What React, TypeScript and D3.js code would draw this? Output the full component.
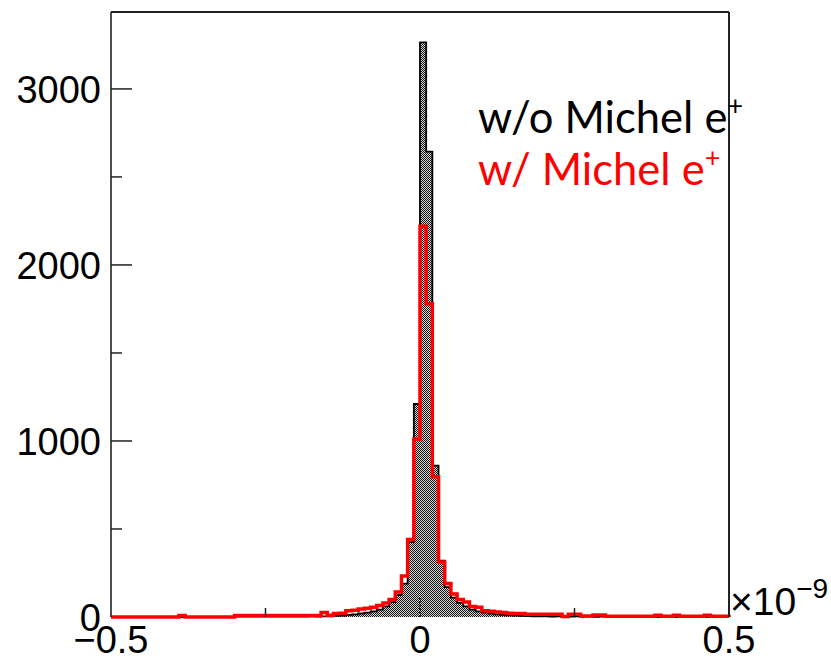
import React from "react";
import * as d3 from "d3";

// 100 bins from -0.5 to 0.5 (x 1e-9)
const binEdgesLo = -0.5;
const binWidth = 0.01;

const woMichel: number[] = [
  0, 0, 0, 0, 0, 0, 0, 0, 0, 0,
  0, 0, 0, 0, 0, 0, 0, 0, 0, 0,
  2, 2, 2, 2, 2, 2, 2, 2, 2, 2,
  2, 2, 3, 2, 3, 4, 6, 8, 12, 15,
  20, 25, 32, 42, 60, 85, 125, 190, 425, 1210,
  3265, 2644, 860, 320, 170, 110, 80, 60, 42, 32,
  25, 20, 15, 12, 10, 8, 6, 5, 3, 4,
  3, 2, 3, 2, 2, 3, 2, 2, 1, 2,
  1, 0, 1, 0, 0, 1, 0, 0, 0, 0,
  0, 0, 0, 0, 0, 0, 0, 0, 0, 0,
];

const wMichel: number[] = [
  0, 0, 0, 0, 0, 0, 0, 0, 0, 0,
  0, 8, 0, 0, 0, 0, 0, 0, 0, 0,
  8, 8, 8, 8, 8, 8, 8, 8, 8, 8,
  8, 8, 8, 8, 25, 10, 20, 22, 35, 38,
  45, 50, 55, 65, 80, 100, 142, 233, 440, 1010,
  2220, 1780, 797, 312, 191, 130, 100, 85, 60, 55,
  35, 33, 28, 25, 22, 20, 20, 15, 15, 15,
  15, 15, 15, 3, 15, 15, 5, 5, 12, 12,
  4, 4, 4, 4, 4, 4, 4, 4, 10, 4,
  4, 10, 4, 4, 4, 4, 10, 4, 4, 4,
];

const yMajorTicks = [0, 1000, 2000, 3000];
const yMinorTicks = [500, 1500, 2500];
const xMajorTicks = [-0.5, 0, 0.5];
const xMinorTicks = [-0.25, 0.25];
const xTickLabels = ["\u22120.5", "0", "0.5"];
const legendLabels = ["w/o Michel e", "w/ Michel e"];

const W = 831;
const H = 660;
const L = 111;
const R = 729;
const T = 12;
const B = 617;

function stepPoints(vals: number[]): [number, number][] {
  const pts: [number, number][] = [];
  pts.push([binEdgesLo, 0]);
  vals.forEach((v, i) => {
    const lo = binEdgesLo + i * binWidth;
    pts.push([lo, v]);
    pts.push([lo + binWidth, v]);
  });
  pts.push([binEdgesLo + vals.length * binWidth, 0]);
  return pts;
}

export default function App() {
  const x = d3.scaleLinear().domain([-0.5, 0.5]).range([L, R]);
  const y = d3.scaleLinear().domain([0, 3437]).range([B, T]);
  const line = d3
    .line<[number, number]>()
    .x((d) => x(d[0]))
    .y((d) => y(d[1]));

  const blackPath = line(stepPoints(woMichel)) || "";
  const redPath = line(stepPoints(wMichel)) || "";
  const font = "'Liberation Sans', Arial, Helvetica, sans-serif";
  const legendFont = "Lato, 'Open Sans', sans-serif";

  return (
    <svg
      width={W}
      height={H}
      style={{ position: "absolute", left: 0, top: 0, background: "#fff" }}
    >
      <defs>
        <pattern id="checker" width={2} height={2} patternUnits="userSpaceOnUse">
          <rect width={2} height={2} fill="#d8d8d8" />
          <rect x={0} y={0} width={1} height={1} fill="#111" />
          <rect x={1} y={1} width={1} height={1} fill="#111" />
        </pattern>
      </defs>

      {/* black histogram */}
      <path d={blackPath + "Z"} fill="url(#checker)" stroke="none" shapeRendering="crispEdges" />
      <path d={blackPath} fill="none" stroke="#000" strokeWidth={1.8} />

      {/* red histogram */}
      <path d={redPath} fill="none" stroke="#ff0000" strokeWidth={3.5} />

      {/* frame */}
      <line x1={L} y1={T} x2={R} y2={T} stroke="#222" strokeWidth={2} />
      <line x1={R} y1={T} x2={R} y2={B} stroke="#222" strokeWidth={2} />
      <line x1={L} y1={T} x2={L} y2={B} stroke="#222" strokeWidth={1.6} />

      {/* y ticks */}
      {yMajorTicks.map((t) => (
        <g key={"ym" + t}>
          {t > 0 && (
            <line x1={L} x2={L + 21} y1={y(t)} y2={y(t)} stroke="#222" strokeWidth={1.5} />
          )}
          <text
            x={L - 10}
            y={y(t)}
            dy="0.36em"
            textAnchor="end"
            fontFamily={font}
            fontSize={38}
            fill="#000"
          >
            {t}
          </text>
        </g>
      ))}
      {yMinorTicks.map((t) => (
        <line key={"yn" + t} x1={L} x2={L + 11} y1={y(t)} y2={y(t)} stroke="#222" strokeWidth={1.5} />
      ))}

      {/* x ticks */}
      {xMajorTicks.map((t, i) => (
        <g key={"xm" + t}>
          {t === 0 && (
            <line
              x1={x(t)}
              x2={x(t)}
              y1={B}
              y2={B - 19}
              stroke="#000"
              strokeWidth={1.5}
              strokeDasharray="2,1.5"
            />
          )}
          <text
            x={x(t)}
            y={B + 36}
            textAnchor="middle"
            fontFamily={font}
            fontSize={38}
            fill="#000"
          >
            {xTickLabels[i]}
          </text>
        </g>
      ))}
      {xMinorTicks.map((t) => (
        <line key={"xn" + t} x1={x(t)} x2={x(t)} y1={B} y2={B - 9} stroke="#222" strokeWidth={1.5} />
      ))}

      {/* exponent */}
      <text x={R + 1} y={B - 2} fontFamily={font} fontSize={39} fill="#000">
        {"\u00d710"}
        <tspan dy={-17} fontSize={28}>
          {"\u22129"}
        </tspan>
      </text>

      {/* legend text */}
      <text x={478} y={133} fontFamily={legendFont} fontSize={43.5} fill="#000">
        {legendLabels[0]}
        <tspan dy={-18} fontSize={27}>+</tspan>
      </text>
      <text x={478} y={185} fontFamily={legendFont} fontSize={43.5} fill="#ff0000">
        {legendLabels[1]}
        <tspan dy={-18} fontSize={27}>+</tspan>
      </text>
    </svg>
  );
}
